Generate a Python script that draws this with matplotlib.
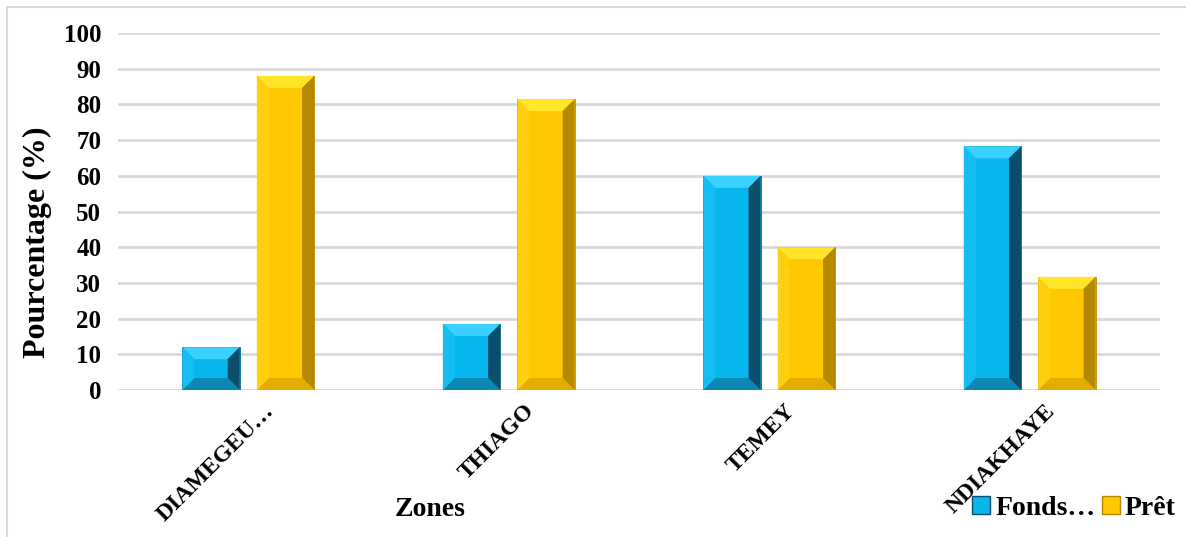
import numpy as np
import matplotlib
matplotlib.use("Agg")
import matplotlib.pyplot as plt
from matplotlib.patches import Polygon, Rectangle
from matplotlib.lines import Line2D
from matplotlib.transforms import IdentityTransform, ScaledTranslation

# data
zones = ["DIAMEGEU…", "THIAGO", "TEMEY", "NDIAKHAYE"]
fonds = [12.0, 18.5, 60.0, 68.3]
pret = [88.0, 81.5, 40.0, 31.7]
series_names = ["Fonds…", "Prêt"]
yticks = [0, 10, 20, 30, 40, 50, 60, 70, 80, 90, 100]

plt.rcParams['font.family'] = ['Liberation Serif', 'DejaVu Serif']
plt.rcParams['font.weight'] = 'bold'

fig = plt.figure(figsize=(11.86, 5.37), dpi=100)
ax = fig.add_axes([0.0995, 0.2737, 0.8785, 0.6648])

# outer frame (only top/left visible in the reference crop)
fig.patches.append(Rectangle((7 / 1186, -0.1), 1.2, (537 - 7) / 537 + 0.1,
                             transform=fig.transFigure, fill=False,
                             edgecolor='#D9D9D9', lw=1.5))

x = np.arange(len(zones))
w = 0.22
off = 0.143

# colours: face, top, right, bottom, left
blue = ['#08B6EE', '#3AD0FF', '#0B4E6C', '#0C86B2', '#14BDF2']
gold = ['#FFC800', '#FFE62A', '#B58800', '#E4AB00', '#FFCF10']

b1 = ax.bar(x - off, fonds, w, color=blue[0], edgecolor='#0A6C90', lw=0.6, zorder=3)
b2 = ax.bar(x + off, pret, w, color=gold[0], edgecolor='#B8900A', lw=0.6, zorder=3)

ax.set_ylim(0, 100)
ax.set_xlim(-0.5, len(zones) - 0.5)
ax.set_yticks(yticks)
ax.yaxis.grid(True, color='#D9D9D9', lw=2, zorder=0)
ax.set_axisbelow(True)
for s in ax.spines.values():
    s.set_visible(False)
ax.tick_params(axis='both', length=0)
ax.tick_params(axis='y', labelsize=18, pad=12)
ax.set_xticks(x)
ax.set_xticklabels(zones, rotation=45, ha='right', rotation_mode='anchor',
                   fontsize=17, fontweight='bold')
ax.tick_params(axis='x', pad=4)
shift = ScaledTranslation(15 / 100, -5 / 100, fig.dpi_scale_trans)
for lbl in ax.get_xticklabels():
    lbl.set_transform(lbl.get_transform() + shift)

# bevel effect drawn from each bar's own geometry
fig.canvas.draw()
bev = 12
for bars, cols in [(b1, blue), (b2, gold)]:
    for p in bars.patches:
        (x0, y0), (x1, y1) = ax.transData.transform(
            [(p.get_x(), p.get_y()), (p.get_x() + p.get_width(), p.get_y() + p.get_height())])
        b = min(bev, (y1 - y0) / 2, (x1 - x0) / 2)
        faces = [
            ([(x0, y1), (x1, y1), (x1 - b, y1 - b), (x0 + b, y1 - b)], cols[1]),
            ([(x1, y1), (x1, y0), (x1 - b, y0 + b), (x1 - b, y1 - b)], cols[2]),
            ([(x0, y0), (x1, y0), (x1 - b, y0 + b), (x0 + b, y0 + b)], cols[3]),
            ([(x0, y0), (x0, y1), (x0 + b, y1 - b), (x0 + b, y0 + b)], cols[4]),
        ]
        for pts, c in faces:
            ax.add_patch(Polygon(pts, closed=True, facecolor=c, edgecolor='none',
                                 transform=IdentityTransform(), zorder=4, clip_on=False))

fig.text(37 / 1186, 1 - 242 / 537, "Pourcentage (%)", fontsize=23, fontweight='bold',
         rotation=90, ha='center', va='center')
fig.text(430 / 1186, 1 - 510 / 537, "Zones", fontsize=20, fontweight='bold',
         ha='center', va='center')

handles = [Line2D([], [], marker='s', ls='', markersize=13, markerfacecolor=blue[0],
                  markeredgecolor=blue[2]),
           Line2D([], [], marker='s', ls='', markersize=13, markerfacecolor=gold[0],
                  markeredgecolor=gold[2])]
fig.legend(handles, series_names, loc='center', bbox_to_anchor=(1072 / 1186, 1 - 508 / 537),
           ncol=2, frameon=False, handletextpad=0.05, columnspacing=0.1,
           handlelength=0.9, prop={'weight': 'bold', 'size': 20})

fig.savefig("out.png", dpi=100)
